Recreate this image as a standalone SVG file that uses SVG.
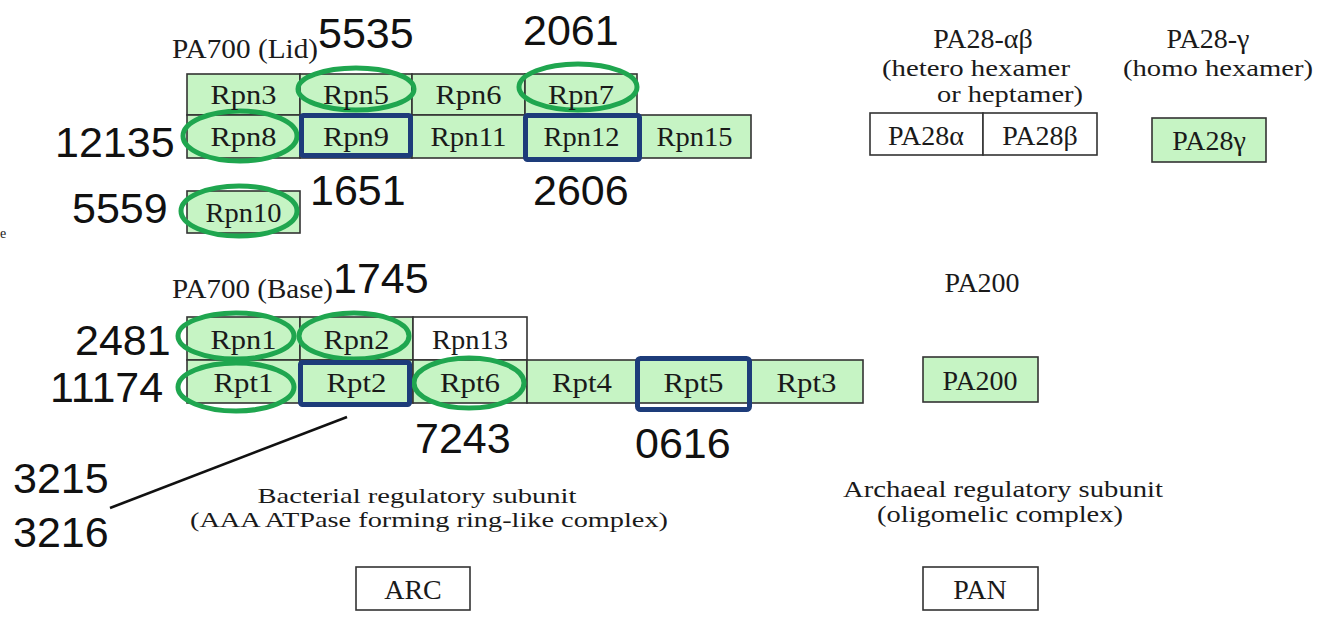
<svg xmlns="http://www.w3.org/2000/svg" width="1335" height="624" viewBox="0 0 1335 624">
<style>
.g{fill:#c6f4c4;stroke:#333;stroke-width:1.6}
.w{fill:#fff;stroke:#333;stroke-width:1.6}
.t{font-family:"Liberation Serif","Times New Roman",serif;font-size:28px;fill:#1a1a1a;text-anchor:middle}
.h{font-family:"Liberation Serif","Times New Roman",serif;font-size:27px;fill:#1a1a1a}
.s{font-family:"Liberation Serif","Times New Roman",serif;font-size:23px;fill:#1a1a1a;text-anchor:middle}
.n{font-family:"Liberation Sans",Arial,sans-serif;font-size:43px;fill:#111}
.el{fill:none;stroke:#1fa64f;stroke-width:5}
.bl{fill:none;stroke:#1d3c7a;stroke-width:5}
.ln{stroke:#111;stroke-width:2.5;fill:none}
</style>
<rect width="1335" height="624" fill="#fff"/>

<g id="lid">
  <text class="h" x="172" y="58" textLength="146" lengthAdjust="spacingAndGlyphs">PA700 (Lid)</text>
  <rect class="g" x="187" y="74" width="113" height="41"/>
  <rect class="g" x="300" y="74" width="112" height="41"/>
  <rect class="g" x="412" y="74" width="113" height="41"/>
  <rect class="g" x="525" y="74" width="112" height="41"/>
  <rect class="g" x="187" y="115" width="113" height="43"/>
  <rect class="g" x="300" y="115" width="112" height="43"/>
  <rect class="g" x="412" y="115" width="113" height="43"/>
  <rect class="g" x="525" y="115" width="113" height="43"/>
  <rect class="g" x="638" y="115" width="113" height="43"/>
  <rect class="g" x="187" y="191" width="113" height="42"/>
</g>

<g id="base">
  <text class="h" x="172" y="298" textLength="161" lengthAdjust="spacingAndGlyphs">PA700 (Base)</text>
  <rect class="g" x="187" y="317" width="113" height="43"/>
  <rect class="g" x="300" y="317" width="113" height="43"/>
  <rect class="w" x="413" y="317" width="114" height="43"/>
  <rect class="g" x="187" y="360" width="113" height="43"/>
  <rect class="g" x="300" y="360" width="113" height="43"/>
  <rect class="g" x="413" y="360" width="114" height="43"/>
  <rect class="g" x="527" y="360" width="110" height="43"/>
  <rect class="g" x="637" y="360" width="113" height="43"/>
  <rect class="g" x="750" y="360" width="113" height="43"/>
</g>

<g id="highlights">
  <ellipse class="el" cx="356" cy="89" rx="58" ry="21"/>
  <ellipse class="el" cx="578" cy="87" rx="59" ry="23"/>
  <ellipse class="el" cx="240" cy="136" rx="57" ry="25"/>
  <ellipse class="el" cx="239" cy="211" rx="58" ry="25"/>
  <ellipse class="el" cx="236" cy="336" rx="58" ry="23"/>
  <ellipse class="el" cx="354" cy="336" rx="55" ry="23"/>
  <ellipse class="el" cx="236" cy="387" rx="58" ry="24"/>
  <ellipse class="el" cx="469" cy="383" rx="55" ry="25"/>
  <rect class="bl" x="301.5" y="115.5" width="109" height="40" rx="2"/>
  <rect class="bl" x="525.5" y="115.5" width="114" height="44" rx="2"/>
  <rect class="bl" x="300.5" y="362.5" width="109" height="42" rx="2"/>
  <rect class="bl" x="637.5" y="358.5" width="112" height="51" rx="3"/>
</g>

<g id="lid-labels">
  <text class="t" x="243.5" y="104" textLength="66" lengthAdjust="spacingAndGlyphs">Rpn3</text>
  <text class="t" x="356" y="104" textLength="66" lengthAdjust="spacingAndGlyphs">Rpn5</text>
  <text class="t" x="468.5" y="104" textLength="66" lengthAdjust="spacingAndGlyphs">Rpn6</text>
  <text class="t" x="581" y="104" textLength="66" lengthAdjust="spacingAndGlyphs">Rpn7</text>
  <text class="t" x="243.5" y="146" textLength="66" lengthAdjust="spacingAndGlyphs">Rpn8</text>
  <text class="t" x="356" y="146" textLength="66" lengthAdjust="spacingAndGlyphs">Rpn9</text>
  <text class="t" x="468.5" y="146" textLength="76" lengthAdjust="spacingAndGlyphs">Rpn11</text>
  <text class="t" x="581.5" y="146" textLength="76" lengthAdjust="spacingAndGlyphs">Rpn12</text>
  <text class="t" x="694.5" y="146" textLength="76" lengthAdjust="spacingAndGlyphs">Rpn15</text>
  <text class="t" x="243.5" y="222" textLength="76" lengthAdjust="spacingAndGlyphs">Rpn10</text>
</g>

<g id="base-labels">
  <text class="t" x="243.5" y="349" textLength="66" lengthAdjust="spacingAndGlyphs">Rpn1</text>
  <text class="t" x="356.5" y="349" textLength="66" lengthAdjust="spacingAndGlyphs">Rpn2</text>
  <text class="t" x="470" y="349" textLength="76" lengthAdjust="spacingAndGlyphs">Rpn13</text>
  <text class="t" x="243.5" y="392" textLength="60" lengthAdjust="spacingAndGlyphs">Rpt1</text>
  <text class="t" x="356.5" y="392" textLength="60" lengthAdjust="spacingAndGlyphs">Rpt2</text>
  <text class="t" x="470" y="392" textLength="60" lengthAdjust="spacingAndGlyphs">Rpt6</text>
  <text class="t" x="582" y="392" textLength="60" lengthAdjust="spacingAndGlyphs">Rpt4</text>
  <text class="t" x="693.5" y="392" textLength="60" lengthAdjust="spacingAndGlyphs">Rpt5</text>
  <text class="t" x="806.5" y="392" textLength="60" lengthAdjust="spacingAndGlyphs">Rpt3</text>
</g>

<g id="pa28ab">
  <text class="t" x="983" y="48">PA28-αβ</text>
  <text class="s" x="976" y="76" textLength="188" lengthAdjust="spacingAndGlyphs">(hetero hexamer</text>
  <text class="s" x="1010" y="102" textLength="146" lengthAdjust="spacingAndGlyphs">or heptamer)</text>
  <rect class="w" x="870" y="113" width="113" height="42"/>
  <rect class="w" x="983" y="113" width="114" height="42"/>
  <text class="t" x="926" y="145">PA28α</text>
  <text class="t" x="1040" y="145">PA28β</text>
</g>

<g id="pa28g">
  <text class="t" x="1208" y="48">PA28-γ</text>
  <text class="s" x="1218" y="76" textLength="190" lengthAdjust="spacingAndGlyphs">(homo hexamer)</text>
  <rect class="g" x="1152" y="118" width="114" height="44"/>
  <text class="t" x="1209" y="150">PA28γ</text>
</g>

<g id="pa200">
  <text class="t" x="982" y="292">PA200</text>
  <rect class="g" x="923" y="357" width="115" height="45"/>
  <text class="t" x="980" y="390">PA200</text>
</g>

<g id="arc">
  <text class="s" x="417" y="503" style="font-size:22px" textLength="319" lengthAdjust="spacingAndGlyphs">Bacterial regulatory subunit</text>
  <text class="s" x="429" y="527" style="font-size:22px" textLength="478" lengthAdjust="spacingAndGlyphs">(AAA ATPase forming ring-like complex)</text>
  <rect class="w" x="356" y="567" width="114" height="43"/>
  <text class="t" x="413" y="599">ARC</text>
</g>

<g id="pan">
  <text class="s" x="1003" y="497" textLength="320" lengthAdjust="spacingAndGlyphs">Archaeal regulatory subunit</text>
  <text class="s" x="1000" y="522" textLength="246" lengthAdjust="spacingAndGlyphs">(oligomelic complex)</text>
  <rect class="w" x="923" y="567" width="115" height="43"/>
  <text class="t" x="980" y="599">PAN</text>
</g>

<g id="numbers">
  <text class="n" x="318" y="48">5535</text>
  <text class="n" x="523" y="45">2061</text>
  <text class="n" x="55" y="157">12135</text>
  <text class="n" x="310" y="205">1651</text>
  <text class="n" x="72" y="223">5559</text>
  <text class="n" x="533" y="205">2606</text>
  <text class="n" x="333" y="293">1745</text>
  <text class="n" x="75" y="355">2481</text>
  <text class="n" x="50" y="402">11174</text>
  <text class="n" x="415" y="453">7243</text>
  <text class="n" x="635" y="458">0616</text>
  <text class="n" x="13" y="493">3215</text>
  <text class="n" x="13" y="547">3216</text>
  <text class="h" x="0" y="238" style="font-size:14px">e</text>
</g>

<g id="connectors">
  <line class="ln" x1="110" y1="508" x2="347" y2="417"/>
</g>
</svg>
